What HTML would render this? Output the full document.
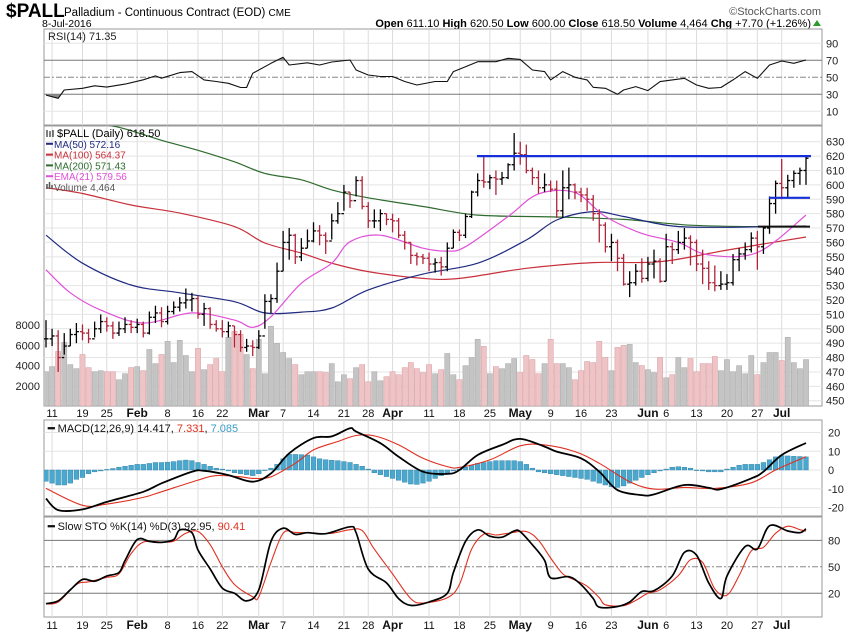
<!DOCTYPE html>
<html><head><meta charset="utf-8"><title>$PALL chart</title>
<style>
html,body{margin:0;padding:0;background:#fff;}
svg{display:block;font-family:"Liberation Sans",sans-serif;}
</style></head>
<body>
<svg id="chart" width="850" height="633" viewBox="0 0 850 633" xmlns="http://www.w3.org/2000/svg">
  <rect x="0" y="0" width="850" height="633" fill="#fff"/>
  <g>
    <text x="6" y="17" font-size="19" font-weight="bold" fill="#000">$PALL</text>
    <text x="64" y="16" font-size="11.5" fill="#000">Palladium - Continuous Contract (EOD) <tspan font-size="10">CME</tspan></text>
    <text x="42" y="27" font-size="10.5" fill="#000">8-Jul-2016</text>
    <text x="811" y="27" font-size="11" text-anchor="end" fill="#000"><tspan font-weight="bold">Open</tspan> 611.10 <tspan font-weight="bold">High</tspan> 620.50 <tspan font-weight="bold">Low</tspan> 600.00 <tspan font-weight="bold">Close</tspan> 618.50 <tspan font-weight="bold">Volume</tspan> 4,464 <tspan font-weight="bold">Chg</tspan> +7.70 (+1.26%)</text>
    <path d="M813 26 L817 20 L821 26 Z" fill="#2a9a2a"/>
    <text x="821" y="15" font-size="11" text-anchor="end" fill="#555">©StockCharts.com</text>
  </g>
  <g id="panels"></g>
</svg>
<script>
// ---------- DATA ----------
const dayLabels = ["11","19","25","Feb","8","16","22","Mar","7","14","21","28","Apr","11","18","25","May","9","16","23","Jun","6","13","20","27","Jul"];
const dayLabelIdx = [1,6,10,15,20,25,29,35,39,44,49,53,57,63,68,73,78,83,88,93,99,102,107,112,117,121];
const closes = [493,495,480,488,496,498,497,493,500,505,502,497,500,503,501,
 503,497,508,511,505,512,515,518,520,521,510,514,503,500,498,502,496,487,488,487,
 495,519,521,540,560,565,550,556,561,568,565,561,575,580,595,589,603,585,575,575,580,576,
 575,565,560,551,550,549,545,546,543,556,567,565,578,595,603,602,605,604,605,614,622,
 621,610,605,598,600,597,582,598,600,595,593,590,580,572,557,560,549,531,532,540,535,
 545,547,533,557,555,560,563,560,545,542,532,530,531,532,548,552,555,563,557,570,587,601,
 598,603,608,610,618.5];
const highs = [506,500,499,497,500,504,503,500,505,510,508,505,505,508,506,
 507,505,512,516,515,516,519,522,528,525,523,518,515,506,506,505,502,499,493,492,
 499,524,524,546,568,570,566,563,569,574,572,567,580,588,600,595,606,606,588,583,583,580,
 580,577,568,560,553,552,553,549,550,560,569,569,580,596,608,620,607,610,609,615,636,
 630,628,612,610,608,603,603,610,612,601,598,598,593,583,574,566,562,552,540,545,549,
 550,555,549,566,560,568,570,565,562,555,547,544,540,538,552,556,560,567,568,571,592,603,
 618,607,610,612,620.5];
const lows = [487,488,470,482,488,490,492,490,494,497,498,493,495,497,497,
 497,494,496,504,501,503,510,512,514,512,507,502,500,498,494,494,487,484,484,481,
 486,500,511,518,540,548,545,547,556,560,558,552,562,573,582,584,592,583,570,570,568,572,
 567,563,555,545,544,545,540,539,537,540,556,561,563,577,592,598,597,593,600,604,610,
 614,608,600,594,595,595,577,577,590,590,588,582,575,560,553,547,540,530,522,530,532,
 533,535,532,533,545,552,555,544,540,531,527,526,527,527,530,540,548,553,541,552,566,580,
 590,591,598,600,600];
const volumes = [3400,3900,5400,6300,4100,3700,5100,3800,3400,3500,3400,3400,2600,3200,3800,3900,3500,5600,4200,5100,
 6400,4300,6500,5000,3400,5700,3600,4100,4700,3400,6800,7400,7100,5100,3700,6600,3200,7900,6200,5300,
 4700,4100,3100,3400,3400,3400,3300,4200,2400,3100,2700,3800,4100,2400,3400,2500,2900,3400,3100,3800,4300,3700,3300,
 4100,3200,3600,5200,3100,2600,4000,4800,6600,5900,3200,3900,3700,4200,4700,3300,5000,4600,3200,4200,
 6600,4200,4200,3800,2600,3500,4400,4300,6400,4800,3500,5800,6000,6100,4300,4000,3600,3300,4800,2800,
 3100,4800,3800,4700,3400,4200,4200,4900,3500,4600,3400,4000,3200,5000,3100,4300,5300,5300,4500,6800,4300,3700,4600];
const ma50Idx = [0,6,14,22,31,36,42,47,53,62,71,79,84,90,95,103,111,119,125];
const ma50Val = [565,545.6,530.4,525,518.8,511,511.6,514.4,527,538,545.6,561.7,575.6,581.4,578,571.4,570.5,571,571];
const ma100Idx = [0,6,14,22,31,36,42,47,53,62,68,79,90,101,112,125];
const ma100Val = [598,594,586,580.4,571,559.6,552.6,545.6,539.7,535,535,542,546,546.6,554.7,563.8];
const ma200Idx = [0,5,12,19,25,31,36,42,47,53,62,71,84,95,106,117,125];
const ma200Val = [652,645,640,631,624,616,608,603.5,596.5,591,585,579,577.7,576,572,571,571.4];
const ema21Idx = [0,4,9,16,24,31,34,37,42,47,50,55,62,66,69,76,81,87,92,98,104,109,117,125];
const ema21Val = [541,525,513,504,511,506,501,508.4,531.7,545.6,560.5,565,556,554,557,578,593.7,594.6,578,566.3,560,551.3,553,579];
const rsiIdx = [0,2,3,6,8,10,13,16,18,19,22,24,26,28,30,32,33,34,37,39,40,43,45,47,50,51,53,55,57,59,61,64,66,67,69,71,74,76,78,80,82,83,85,87,89,90,92,94,95,97,99,101,103,105,107,109,111,113,115,117,119,121,123,125];
const rsiVal = [29,25.3,35,37,40,38.5,42,47,51.6,49,55.5,56.7,46.9,45,43,38,38,54.7,66.5,73.5,64.5,67,64.5,68,70.4,58.6,52.7,51,51,45,41,45,45,56.7,62.5,68.4,68.4,72.4,71,58.6,56.7,46.9,56.7,50,46.9,38.2,37,30,35,39,34.3,44.9,46.9,48.8,41,37,38,46.9,56.7,48.8,64.5,69.2,66.5,70.4];
const macdIdx = [0,2,6,10,16,19,24,26,30,34,37,40,44,47,50,51,55,58,62,66,68,71,75,78,82,84,88,91,94,98,100,105,109,111,116,118,121,125];
const macdVal = [-15.2,-21.4,-21,-17,-11.6,-7.1,-0.9,-0.4,-2.7,-6.25,-1.8,8.9,17,17.9,22.3,20.5,14.3,7.1,-0.9,-2.1,0,8,13.4,16.6,12.5,9.8,6.25,-0.9,-10.7,-13.4,-13,-8,-9.5,-10.2,-4.5,-0.9,8,14.4];
const signalIdx = [0,6,10,16,19,25,28,32,34,37,41,44,48,51,54,58,62,66,68,73,78,82,87,91,96,100,105,110,116,120,125];
const signalVal = [-9.8,-18.8,-18.2,-14.6,-11.6,-5.4,-3,-3.6,-4.5,-3.6,3.6,10.7,15.2,18.4,18.2,13.4,6.25,1.8,1.4,5.4,12.9,13.4,9.8,3.6,-6.25,-10.2,-9.3,-9.8,-6.8,0,7.1];
const histVal = [-6,-7,-8,-8,-7,-5,-4,-2,-1,-0.5,0.3,0.8,1.5,2,2.5,3,3,3.5,4,4,4.2,4.5,5,5.3,5,4,3,2,1,0.5,
 -0.5,-1.5,-2,-2.5,-3,-2,0,1,3,6,8.4,8.3,8.2,8,7,6,5.5,5.2,5,4.5,4,3,2,0.5,
 -1.5,-2.5,-3.5,-4.5,-5.5,-6.5,-7.5,-7.7,-7,-6,-4.5,-3,-1.5,-0.5,
 0.5,1.5,2.5,3.5,4,4.5,5,5,5,5,4.5,3,1,-1,-1.5,-2,-2.5,-3,-3.5,
 -4,-4.5,-5,-6,-7,-8,-9,-9.3,-8.5,-7,-5.5,-4,-2.5,-1.5,-0.5,0.5,1.5,1.8,1.5,1,0,-0.5,-1,-1,-1,
 0.5,1.5,2.5,3,3,3,4,5.5,7,7.7,7.5,7.3,7.2,7];
const stoKIdx = [0,2,4,6,8,10,12,13,15,17,19,21,22,24,25,27,29,31,33,35,37,39,41,43,46,50,51,53,56,58,60,63,66,67,69,71,73,75,77,78,80,82,83,86,88,90,91,94,96,98,100,103,105,107,109,111,112,115,117,119,122,124,125];
const stoKVal = [8.2,11.4,24,35.7,33.7,39.6,43.5,57,80.8,78.8,77.6,80.8,91.8,88.6,69,47.5,25.9,20,11.4,24,78.8,93.7,86.7,88.6,87.5,95.3,88.6,47.5,31.8,14,6.3,10.2,20,43.5,78.8,91.8,84.7,83.5,90.6,89.8,74.9,57.3,37.6,38.8,29.8,14.1,4.3,5.1,10.2,22,23,39.6,66.3,63.1,31.8,14.1,39.6,73,70.2,96.5,90.6,88.6,92.95];
const stoDIdx = [0,2,5,7,10,12,14,16,19,21,23,25,27,29,31,34,35,37,39,41,44,47,50,52,54,57,60,62,66,68,70,72,74,76,79,81,83,85,87,89,91,92,95,97,99,101,104,106,108,110,112,114,116,118,120,122,124,125];
const stoDVal = [8,10,30,33,38,42,65,78,78,79,88,90,75,50,30,16,16,55,88,89,88,88,92,91,70,42,14,9,15,30,70,87,86,88,90,80,60,42,35,28,15,7,6,12,20,24,40,58,55,25,18,40,68,72,88,96,92,90.41];
const priceTicks = [630,620,610,600,590,580,570,560,550,540,530,520,510,500,490,480,470,460,450];
const volTicks = [8000,6000,4000,2000];
const rsiTicks = [90,70,50,30,10];
const macdTicks = [20,10,0,-10,-20];
const stoTicks = [80,50,20];
const resistance = 620;
const support = 591;
const maFlat = 571;

// ---------- SCALES ----------
const NS = "http://www.w3.org/2000/svg";
const L = 44, R = 822;
function xAt(i){ return 46 + i*6.08; }
function yRsi(v){ return 94.3 - (v-30)*0.85; }
function yPrice(p){ return 141.7 + (630-p)*1.439; }
function yVol(v){ return 406 - v*0.0101; }
function yMacd(v){ return 470 - v*1.875; }
function ySto(v){ return 593.3 - (v-20)*0.883; }
const root = document.getElementById('panels');
function mk(tag, attrs, parent){
  const e = document.createElementNS(NS, tag);
  for (const k in attrs) e.setAttribute(k, attrs[k]);
  (parent||root).appendChild(e);
  return e;
}
function lineThrough(idx, vals, yf, color, w, name, parent, smooth){
  const P = idx.map((i,k)=>[xAt(i), yf(vals[k])]);
  let d = 'M'+P[0][0].toFixed(1)+' '+P[0][1].toFixed(1);
  for (let k=1;k<P.length;k++){
    if (smooth){
      const p0 = P[Math.max(0,k-2)], p1 = P[k-1], p2 = P[k], p3 = P[Math.min(P.length-1,k+1)];
      const c1 = [p1[0]+(p2[0]-p0[0])/6, p1[1]+(p2[1]-p0[1])/6];
      const c2 = [p2[0]-(p3[0]-p1[0])/6, p2[1]-(p3[1]-p1[1])/6];
      d += ' C'+c1[0].toFixed(1)+' '+c1[1].toFixed(1)+' '+c2[0].toFixed(1)+' '+c2[1].toFixed(1)+' '+p2[0].toFixed(1)+' '+p2[1].toFixed(1);
    } else {
      d += ' L'+P[k][0].toFixed(1)+' '+P[k][1].toFixed(1);
    }
  }
  const p = mk('path',{d:d,fill:'none',stroke:color,'stroke-width':w,'stroke-linejoin':'round'},parent);
  
  
  return p;
}
const defs = mk('defs',{});
[['clip-rsi',29,96],['clip-main',126,280],['clip-macd',420,96],['clip-sto',517,100]].forEach(c=>{
  const cp = mk('clipPath',{id:c[0]},defs);
  mk('rect',{x:L,y:c[1],width:R-L,height:c[2]},cp);
});
function panel(name, top, h){
  const g = mk('g',{});
  
  
  const r = mk('rect',{x:L,y:top,width:R-L,height:h,fill:'#fff',stroke:'#9a9a9a','stroke-width':1},g);
  
  
  dayLabelIdx.forEach(i=>{
    mk('line',{x1:xAt(i),x2:xAt(i),y1:top,y2:top+h,stroke:'#dcdcdc','stroke-width':1},g);
  });
  return g;
}
function axisText(g, x, y, t, name, anchor){
  const e = mk('text',{x:x,y:y,'font-size':11,fill:'#222','text-anchor':anchor||'start'},g);
  e.textContent = t;
  
  
  return e;
}

// ---------- RSI PANEL ----------
const gR = panel('rsi-panel', 29, 96);
rsiTicks.forEach(v=>{
  const y = yRsi(v);
  const st = (v===70||v===30)?'#777':(v===50?'#888':'#e6e6e6');
  const ln = mk('line',{x1:L,x2:R,y1:y,y2:y,stroke:st,'stroke-width':1},gR);
  if (v===50) ln.setAttribute('stroke-dasharray','6 2 2 2');
  axisText(gR, 826, y+4, String(v), 'rsi-tick-'+v);
});
(function(){
  const pts = rsiIdx.map((i,k)=>xAt(i).toFixed(1)+','+yRsi(rsiVal[k]).toFixed(1));
  const cpA = mk('clipPath',{id:'clip-rsi-hi'},defs);
  mk('rect',{x:L,y:29,width:R-L,height:yRsi(70)-29},cpA);
  const cpB = mk('clipPath',{id:'clip-rsi-lo'},defs);
  mk('rect',{x:L,y:yRsi(30),width:R-L,height:125-yRsi(30)},cpB);
  const first = xAt(rsiIdx[0]).toFixed(1), last = xAt(rsiIdx[rsiIdx.length-1]).toFixed(1);
  const fa = mk('polygon',{points:first+','+yRsi(70)+' '+pts.join(' ')+' '+last+','+yRsi(70),fill:'#8a8a8a','clip-path':'url(#clip-rsi-hi)'},gR);
  
  
  const fb = mk('polygon',{points:first+','+yRsi(30)+' '+pts.join(' ')+' '+last+','+yRsi(30),fill:'#8a8a8a','clip-path':'url(#clip-rsi-lo)'},gR);
  
  
})();
lineThrough(rsiIdx, rsiVal, yRsi, '#111', 1.1, 'rsi-line', gR, false);
axisText(gR, 48, 40, 'RSI(14) 71.35', 'rsi-legend');

// ---------- MAIN PRICE PANEL ----------
const gM = panel('price-panel', 126, 280);
priceTicks.forEach(p=>{
  const y = yPrice(p);
  mk('line',{x1:L,x2:R,y1:y,y2:y,stroke:'#e4e4e4','stroke-width':1},gM);
  axisText(gM, 826, y+4, String(p), 'price-tick-'+p);
});
volTicks.forEach(v=>{
  axisText(gM, 40, yVol(v)+4, String(v), 'volume-tick-'+v, 'end');
});
const gVol = mk('g',{'clip-path':'url(#clip-main)'},gM);


volumes.forEach((v,i)=>{
  const down = i>0 && closes[i] < closes[i-1];
  const y = yVol(v);
  const b = mk('rect',{x:xAt(i)-2.6,y:y,width:5.2,height:406-y,fill:down?'#efc4c6':'#c4c4c4',stroke:down?'#d69a9e':'#a8a8a8','stroke-width':0.5},gVol);
  
  
});
const gLines = mk('g',{'clip-path':'url(#clip-main)'},gM);
lineThrough(ma200Idx, ma200Val, yPrice, '#2e6b2e', 1.2, 'ma200-line', gLines, true);
lineThrough(ma100Idx, ma100Val, yPrice, '#c8303c', 1.2, 'ma100-line', gLines, true);
lineThrough(ma50Idx, ma50Val, yPrice, '#1f2a80', 1.2, 'ma50-line', gLines, true);
lineThrough(ema21Idx, ema21Val, yPrice, '#e050d8', 1.2, 'ema21-line', gLines, true);
const gBars = mk('g',{'clip-path':'url(#clip-main)'},gM);


closes.forEach((c,i)=>{
  const down = i>0 && c < closes[i-1];
  const col = down ? '#b0243a' : '#000';
  const x = xAt(i);
  const open = i>0 ? closes[i-1] : c;
  const g = mk('g',{stroke:col,'stroke-width':1.3},gBars);
  
  
  mk('line',{x1:x,x2:x,y1:yPrice(highs[i]),y2:yPrice(lows[i])},g);
  mk('line',{x1:x-2.5,x2:x,y1:yPrice(open),y2:yPrice(open)},g);
  mk('line',{x1:x,x2:x+2.5,y1:yPrice(c),y2:yPrice(c)},g);
});
(function(){
  const r1 = mk('line',{x1:477,x2:811,y1:yPrice(resistance),y2:yPrice(resistance),stroke:'#1530d8','stroke-width':2.2},gM);
  
  
  const r2 = mk('line',{x1:769,x2:810,y1:yPrice(support),y2:yPrice(support),stroke:'#1530d8','stroke-width':2.2},gM);
  
  
  const r3 = mk('line',{x1:758,x2:810,y1:yPrice(maFlat),y2:yPrice(maFlat),stroke:'#111','stroke-width':2},gM);
  
  
})();
// legend
(function(){
  const lg = mk('g',{},gM);
  
  
  const items = [['$PALL (Daily) 618.50','#000','legend-price'],['MA(50) 572.16','#1f2a80','legend-ma50'],['MA(100) 564.37','#c8303c','legend-ma100'],['MA(200) 571.43','#2e6b2e','legend-ma200'],['EMA(21) 579.56','#e050d8','legend-ema21'],['Volume 4,464','#555','legend-volume']];
  items.forEach((it,k)=>{
    const y = 137 + k*10.8;
    if (k>0 && k<5) mk('line',{x1:46,x2:53,y1:y-4,y2:y-4,stroke:it[1],'stroke-width':2},lg);
    const t = mk('text',{x:k===0?57:54,y:y,'font-size':k===0?11:10,fill:it[1]},lg);
    t.textContent = it[0];
    
    
  });
  mk('path',{d:'M47 130 v7 M50 131 v6 M53 130 v7',stroke:'#000','stroke-width':1},lg);
  mk('path',{d:'M47 189 v-5 M49.5 189 v-7 M52 189 v-4',stroke:'#555','stroke-width':1.5},lg);
})();

// ---------- X AXIS LABELS ----------
function xLabels(y, name){
  const g = mk('g',{});
  
  
  dayLabels.forEach((t,k)=>{
    const bold = isNaN(parseInt(t));
    const e = mk('text',{x:xAt(dayLabelIdx[k]),y:y,'font-size':bold?12:11,'font-weight':bold?'bold':'normal','text-anchor':'middle',fill:'#111'},g);
    e.textContent = t;
    
    
  });
}
xLabels(417, 'x-axis-top');
xLabels(629, 'x-axis-bottom');

// ---------- MACD PANEL ----------
const gD = panel('macd-panel', 420, 96);
macdTicks.forEach(v=>{
  const y = yMacd(v);
  mk('line',{x1:L,x2:R,y1:y,y2:y,stroke:'#e4e4e4','stroke-width':1},gD);
  axisText(gD, 828, y+4, String(v), 'macd-tick-'+v);
});
const gH = mk('g',{'clip-path':'url(#clip-macd)'},gD);


histVal.forEach((v,i)=>{
  const y0 = yMacd(0), y1 = yMacd(v);
  const b = mk('rect',{x:xAt(i)-2.4,y:Math.min(y0,y1),width:4.8,height:Math.max(0.6,Math.abs(y1-y0)),fill:'#4aa8cf',stroke:'#2a7ca0','stroke-width':0.4},gH);
  
  
});
const gDL = mk('g',{'clip-path':'url(#clip-macd)'},gD);
lineThrough(signalIdx, signalVal, yMacd, '#e03020', 1.1, 'macd-signal-line', gDL, true);
lineThrough(macdIdx, macdVal, yMacd, '#000', 1.8, 'macd-line', gDL, true);
(function(){
  const t = mk('text',{x:48,y:432,'font-size':11,fill:'#111'},gD);
  t.innerHTML = '<tspan font-weight="bold">━</tspan> MACD(12,26,9) 14.417, <tspan fill="#e03020">7.331</tspan>, <tspan fill="#3a9cc8">7.085</tspan>';
  
  
})();

// ---------- STOCHASTIC PANEL ----------
const gS = panel('stochastic-panel', 517, 100);
stoTicks.forEach(v=>{
  const y = ySto(v);
  const ln = mk('line',{x1:L,x2:R,y1:y,y2:y,stroke:v===50?'#888':'#777','stroke-width':1},gS);
  if (v===50) ln.setAttribute('stroke-dasharray','6 2 2 2');
  axisText(gS, 828, y+4, String(v), 'sto-tick-'+v);
});
const gSL = mk('g',{'clip-path':'url(#clip-sto)'},gS);
lineThrough(stoDIdx, stoDVal, ySto, '#e03020', 1.1, 'sto-d-line', gSL, true);
lineThrough(stoKIdx, stoKVal, ySto, '#000', 1.7, 'sto-k-line', gSL, true);
(function(){
  const t = mk('text',{x:48,y:530,'font-size':11,fill:'#111'},gS);
  t.innerHTML = '<tspan font-weight="bold">━</tspan> Slow STO %K(14) %D(3) 92.95, <tspan fill="#e03020">90.41</tspan>';
  
  
})();
</script>
</body></html>
